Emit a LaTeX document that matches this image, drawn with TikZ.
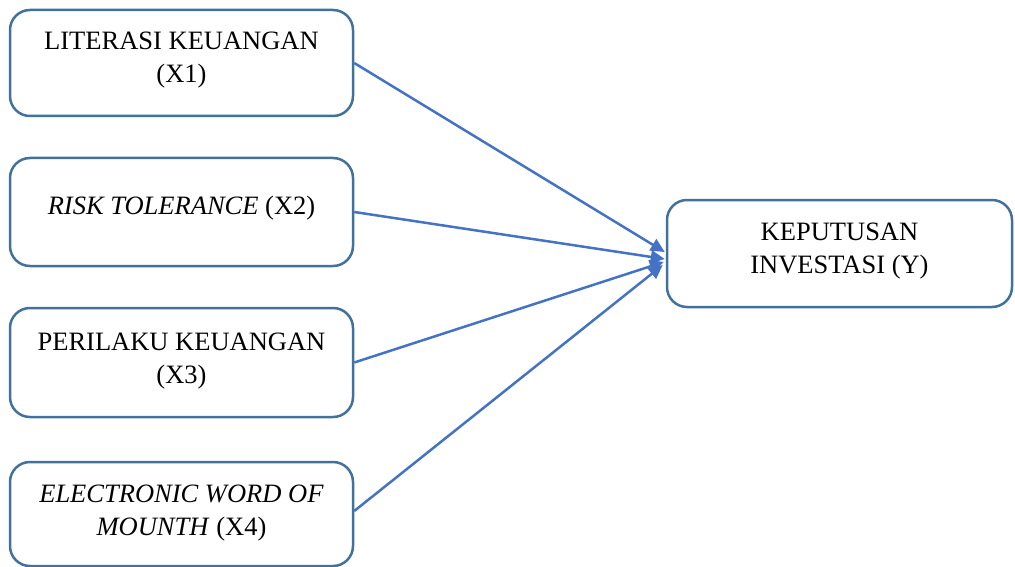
\documentclass[tikz,border=0pt]{standalone}
\usepackage{fontspec}
\setmainfont{Liberation Serif}
\usetikzlibrary{arrows.meta,calc}
\definecolor{boxline}{HTML}{41719C}
\definecolor{arrowc}{HTML}{4472C4}
\begin{document}
\begin{tikzpicture}[x=1pt,y=-1pt,
  varbox/.style={draw=boxline,line width=2.5pt,rounded corners=20pt,minimum width=343pt,inner sep=0pt},
  lbl/.style={align=center,inner sep=0pt,anchor=base,font=\fontsize{26.5}{33}\selectfont},
  conn/.style={draw=arrowc,line width=2.5pt,-{Triangle[length=14pt,width=13pt]}}]
\useasboundingbox (0,0) rectangle (1015,567);
\node[varbox,minimum height=106pt] (b1) at (181.5,63) {};
\node[varbox,minimum height=108pt] (b2) at (181.5,212) {};
\node[varbox,minimum height=109pt] (b3) at (181.5,362.5) {};
\node[varbox,minimum height=104pt] (b4) at (181.5,514) {};
\node[varbox,minimum width=345pt,minimum height=107pt] (y) at (839.5,253.5) {};
\node[lbl] (t1) at (181.5,83) {LITERASI KEUANGAN\\(X1)};
\node[lbl] (t2) at (181.5,214) {\textit{RISK TOLERANCE} (X2)};
\node[lbl] (t3) at (181.5,383) {PERILAKU KEUANGAN\\(X3)};
\node[lbl] (t4) at (181.5,535) {\textit{ELECTRONIC WORD OF}\\\textit{MOUNTH} (X4)};
\node[lbl] (ty) at (839.5,273) {KEPUTUSAN\\INVESTASI (Y)};
\coordinate (e1) at ($(y.west)+(-1,-1.5)$);
\coordinate (e2) at ($(y.west)+(-1,5.5)$);
\coordinate (e3) at ($(y.west)+(-2,8.5)$);
\coordinate (e4) at ($(y.west)+(-3,11.5)$);
\draw[conn] (b1.east) -- (e1);
\draw[conn] (b2.east) -- (e2);
\draw[conn] (b3.east) -- (e3);
\draw[conn] ($(b4.east)+(0,-3)$) -- (e4);
\end{tikzpicture}
\end{document}
